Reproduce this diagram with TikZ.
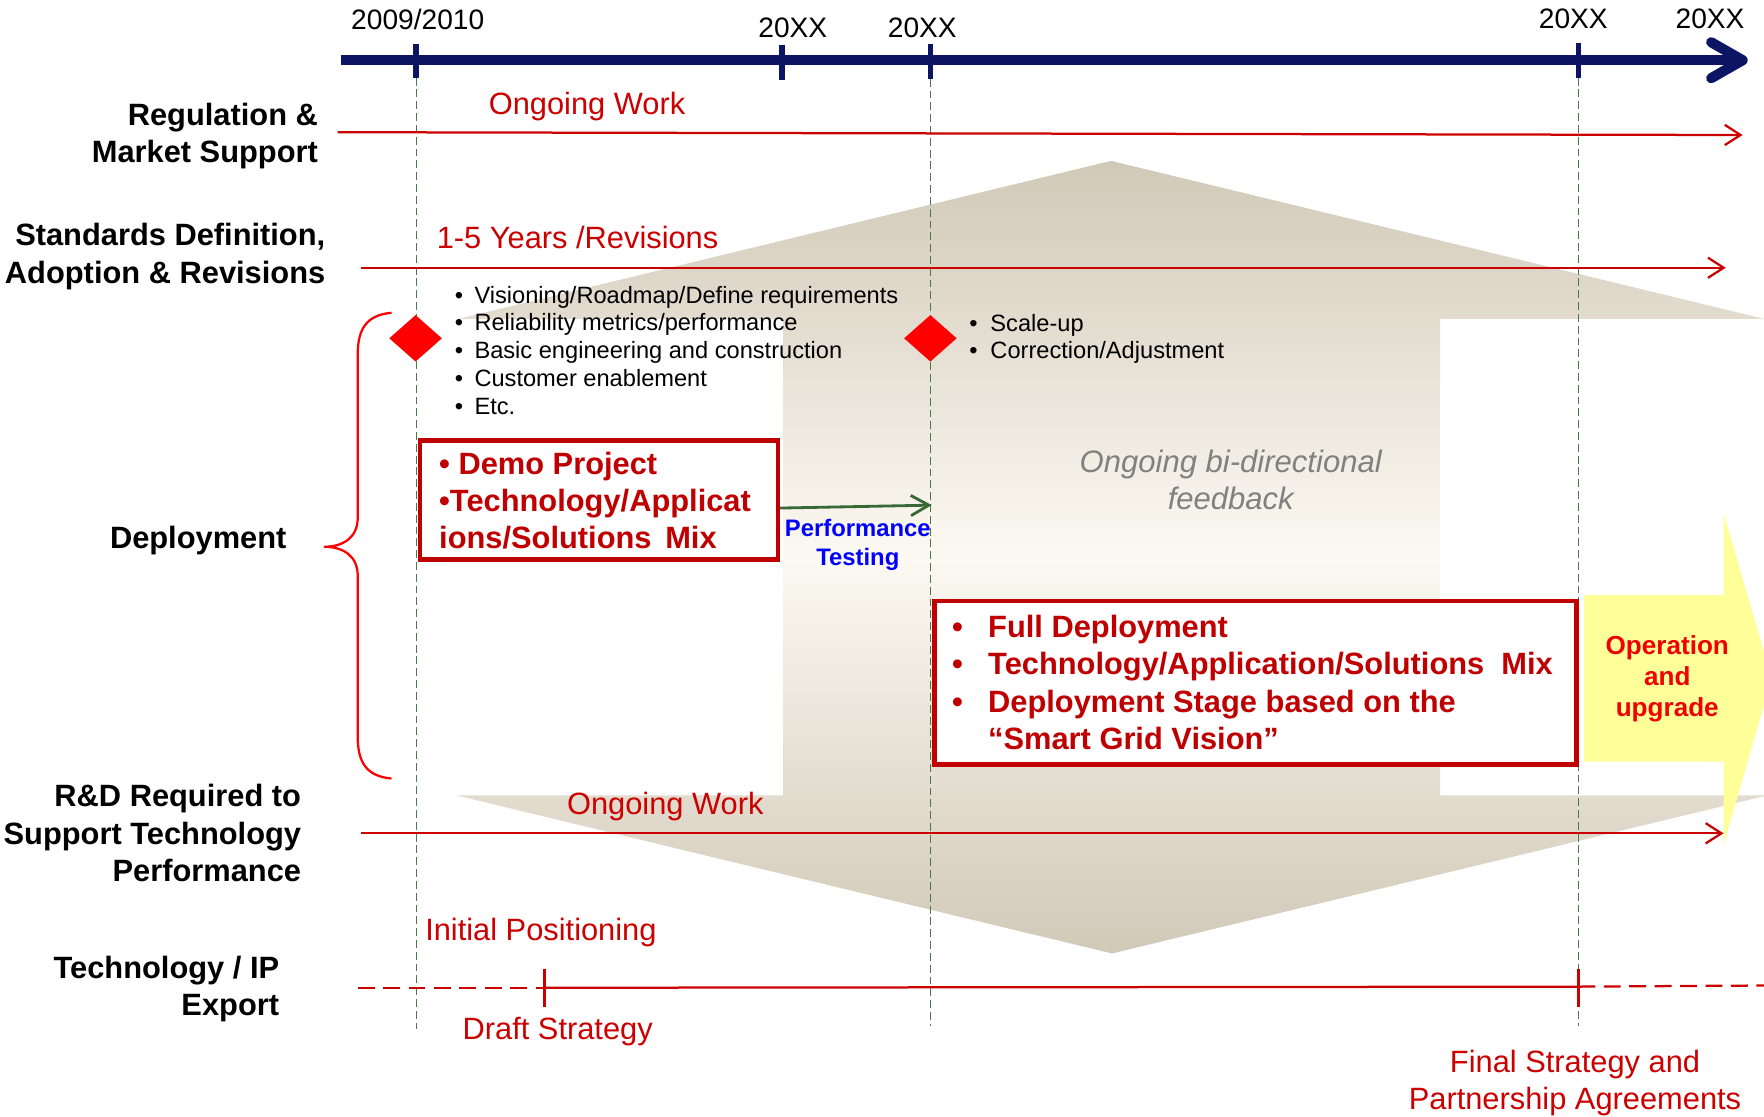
\documentclass[tikz,border=0pt]{standalone}
\usepackage{fontspec}
\setmainfont{Liberation Sans}
\usetikzlibrary{arrows.meta,shapes.geometric}
\definecolor{navyline}{RGB}{12,20,100}
\definecolor{rowred}{RGB}{204,0,0}
\definecolor{boxred}{RGB}{192,0,0}
\definecolor{brightred}{RGB}{255,0,0}
\definecolor{guidegreen}{RGB}{75,120,75}
\definecolor{testgreen}{RGB}{55,105,55}
\definecolor{beigedark}{RGB}{209,201,184}
\definecolor{beigelight}{RGB}{252,249,242}
\definecolor{paleyellow}{RGB}{255,255,153}
\definecolor{notegray}{RGB}{128,128,128}
\definecolor{testblue}{RGB}{0,0,255}
\newcommand\fsz[2]{\fontsize{#1}{#2}\selectfont}

\begin{document}
\begin{tikzpicture}[x=0.5pt,y=-0.5pt,
  rowlabel/.style={font=\bfseries\fsz{13.7}{16.5}, align=right, inner sep=0, anchor=east, yshift=-1.4pt},
  redlabel/.style={text=rowred, font=\fsz{13.7}{16.5}, inner sep=0, yshift=-1.25pt},
  yearlabel/.style={font=\fsz{12.5}{15}, inner sep=0, yshift=-0.4pt},
  rowarrow/.style={draw=rowred, line width=1pt, -{Straight Barb[length=7pt,width=9pt]}},
  guide/.style={draw=guidegreen, line width=0.6pt, dash pattern=on 3.5pt off 1.75pt},
  yeartick/.style={draw=navyline, line width=2.5pt},
  iptick/.style={draw=rowred, line width=1.5pt},
  ipline/.style={draw=rowred, line width=1pt},
  ipdash/.style={ipline, dash pattern=on 7.5pt off 3.8pt},
  milestone/.style={diamond, fill=brightred, minimum width=23.5pt, minimum height=20.8pt, inner sep=0},
  stagebox/.style={draw=boxred, line width=2pt, fill=white, inner sep=0},
  stagetext/.style={text=boxred, font=\bfseries\fsz{13.7}{16.5}, align=left, inner sep=0, anchor=west},
  notes/.style={font=\fsz{10.5}{12.4}, align=left, inner sep=0, anchor=west},
]
\useasboundingbox (0,0) rectangle (1568,992);

% feedback double arrow in the background
\shade[top color=beigedark, bottom color=beigedark, middle color=beigelight]
  (987.6,143) -- (1568.5,283.5) -- (1280,283.5) -- (1280,707) -- (1571,707)
  -- (988.5,847.5) -- (405.7,707) -- (696,707) -- (696,283.5) -- (407.5,283.5) -- cycle;

% operation arrow
\fill[paleyellow] (1408,529) -- (1532,529) -- (1532,456) -- (1575,603)
  -- (1532,751) -- (1532,677) -- (1408,677) -- cycle;

% milestone guides
\draw[guide] (370,69) -- (370,915);
\draw[guide] (827,70) -- (827,912);
\draw[guide] (1403,69) -- (1403,912);

% timeline
\coordinate (tl0) at (303,53.5);
\coordinate (tl1) at (1549,53.5);
\draw[navyline, line width=4.5pt] (tl0) -- (tl1);
\draw[navyline, line width=4.5pt, line cap=round, line join=round]
  (1521,37.5) -- (tl1) -- (1521,69.5);
\draw[yeartick] (370,39) -- (370,69);
\draw[yeartick] (695,40) -- (695,71);
\draw[yeartick] (827,39) -- (827,70);
\draw[yeartick] (1403,38) -- (1403,69);
\node[yearlabel] (yr0) at (371.3,16.3) {2009/2010};
\node[yearlabel] (yr1) at (704.7,23.7) {20XX};
\node[yearlabel] (yr2) at (819.8,23.7) {20XX};
\node[yearlabel] (yr3) at (1398.5,16.3) {20XX};
\node[yearlabel] (yr4) at (1520,16.3) {20XX};

% row labels
\node[rowlabel] (labreg) at (283,117.8) {Regulation \&\\Market Support};
\node[rowlabel] (labstd) at (289.5,225.2) {Standards Definition,\\Adoption \& Revisions};
\node[rowlabel] (labdep) at (255,478) {Deployment};
\node[rowlabel] (labrd) at (268,737.7) {R\&D Required to\\Support Technology\\Performance};
\node[rowlabel] (labip) at (248.5,876) {Technology / IP\\Export};

% row arrows
\coordinate (reg0) at (300,117.5);
\coordinate (reg1) at (1549,120);
\draw[rowarrow] (reg0) -- (reg1);
\coordinate (std0) at (320.5,238);
\coordinate (std1) at (1534,238);
\draw[rowarrow] (std0) -- (std1);
\coordinate (rd0) at (320.5,740.7);
\coordinate (rd1) at (1532,740.7);
\draw[rowarrow] (rd0) -- (rd1);

% technology / IP export line
\coordinate (ip0) at (318,878);
\coordinate (ipA) at (484,878);
\coordinate (ipB) at (1403,877);
\coordinate (ip1) at (1568,876);
\draw[ipdash] (ip0) -- (ipA);
\draw[ipline] (ipA) -- (ipB);
\draw[ipdash] (ipB) -- (ip1);
\draw[iptick] (484,861) -- (484,895);
\draw[iptick] (1403,861) -- (1403,895);

% red row texts
\node[redlabel] (ow1) at (521.8,91.9) {Ongoing Work};
\node[redlabel] (yrs) at (513.4,208.9) {1-5 Years /Revisions};
\node[redlabel] (ow2) at (591.4,714.1) {Ongoing Work};
\node[redlabel, anchor=west] (initpos) at (377.6,826.7) {Initial Positioning};
\node[redlabel, anchor=west] (draft) at (410.8,914.1) {Draft Strategy};
\node[redlabel, align=center] (final) at (1400,960) {Final Strategy and\\Partnership Agreements};

% deployment brace
\draw[brightred, line width=1pt]
  (348,278) .. controls (326,280) and (318,292) .. (318,315) -- (318,460)
  .. controls (318,478) and (305,486) .. (288,486)
  .. controls (305,486) and (318,494) .. (318,512) -- (318,655)
  .. controls (318,678) and (326,690) .. (348,692);

% milestones and their notes
\node[milestone] (ms1) at (369.4,300.7) {};
\node[milestone] (ms2) at (827,300.7) {};
\node[notes] (notes1) at (404,311.5) {%
  \makebox[8.7pt][l]{•}Visioning/Roadmap/Define requirements\\
  \makebox[8.7pt][l]{•}Reliability metrics/performance\\
  \makebox[8.7pt][l]{•}Basic engineering and construction\\
  \makebox[8.7pt][l]{•}Customer enablement\\
  \makebox[8.7pt][l]{•}Etc.};
\node[notes, font=\fsz{10.5}{11.85}] (notes2) at (861.3,301.2) {%
  \makebox[9.35pt][l]{•}Scale-up\\
  \makebox[9.35pt][l]{•}Correction/Adjustment};

% demo stage
\node[stagebox, minimum width=158.95pt, minimum height=52.9pt] (demo) at (532.45,444.4) {};
\node[stagetext] (demotext) at (390,445) {%
  • Demo Project\\
  •Technology/Applicat\\
  ions/Solutions\ \,Mix};
\coordinate (perfend) at (828.2,449);
\draw[testgreen, line width=1.25pt, -{Straight Barb[length=8pt,width=9pt]}]
  ([yshift=-3.6pt]demo.east) -- (perfend);
\node[text=testblue, font=\bfseries\fsz{10.6}{13}, align=center, inner sep=0] (perf) at (762.5,484.5) {Performance\\Testing};

% feedback note
\node[text=notegray, font=\itshape\fsz{13.8}{16.5}, align=center, inner sep=0] (fb) at (1094,426.5) {Ongoing bi-directional\\feedback};

% full deployment stage
\node[stagebox, minimum width=285.45pt, minimum height=72.75pt] (full) at (1115.95,606.75) {};
\node[stagetext] (fulltext) at (846,606.6) {%
  \makebox[16pt][l]{•}Full Deployment\\
  \makebox[16pt][l]{•}Technology/Application/Solutions\ \ Mix\\
  \makebox[16pt][l]{•}Deployment Stage based on the\\
  \hspace*{16pt}“Smart Grid Vision”};

% operation
\node[text=brightred!94!black, font=\bfseries\fsz{11.6}{13.75}, align=center, inner sep=0] (op) at (1482,603.5) {Operation\\and\\upgrade};
\end{tikzpicture}
\end{document}
